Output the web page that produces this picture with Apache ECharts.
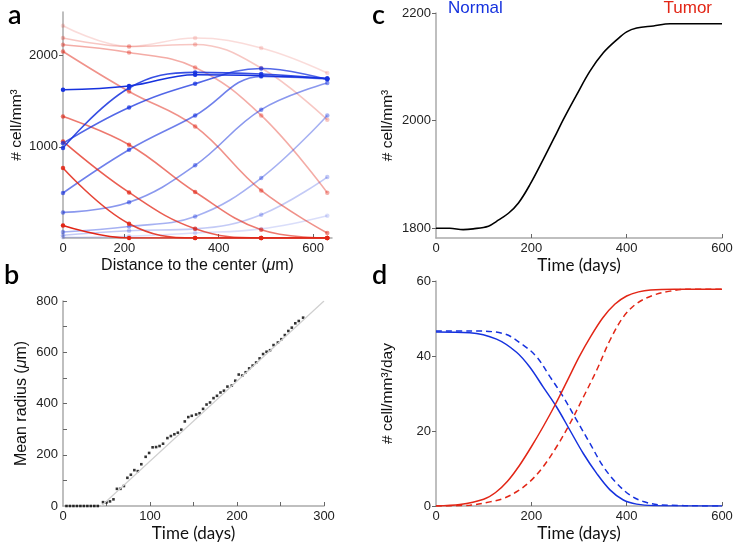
<!DOCTYPE html>
<html>
<head>
<meta charset="utf-8">
<script src="https://cdn.jsdelivr.net/npm/echarts@6/dist/echarts.min.js"></script>
<style>
html, body { margin: 0; padding: 0; background: #fff; }
#main { width: 733px; height: 546px; }
</style>
</head>
<body>
<div id="main"></div>
<script>
// panel a : density profiles vs distance, one line per snapshot (dark = early, light = late)
var DIST = [70, 210, 350, 490, 630];
var TUMOR_PROFILES = [
  [138, 0, 0, 0, 0],
  [768, 157, 0, 0, 0],
  [1060, 500, 102, 0, 0],
  [1334, 1024, 505, 91, 0],
  [2047, 1608, 1224, 522, 55],
  [2121, 2036, 1872, 1345, 497],
  [2194, 2102, 2124, 1865, 1298],
  [2329, 2102, 2194, 2084, 1810]
];
var NORMAL_PROFILES = [
  [1627, 1668, 1792, 1780, 1750],
  [987, 1646, 1817, 1799, 1751],
  [1040, 1433, 1693, 1860, 1740],
  [494, 969, 1345, 1773, 1745],
  [281, 391, 797, 1408, 1700],
  [66, 127, 237, 658, 1345],
  [30, 80, 100, 256, 669],
  [8, 20, 55, 100, 245]
];

// panel b : mean radius over time
var RADIUS_DAYS = [4, 8, 12, 16, 20, 24, 28, 32, 36, 40,
  46, 50, 54, 58, 62, 66, 70, 74, 78, 82, 86, 90, 95, 99, 103, 107, 111, 115,
  120, 124, 128, 132, 136, 140, 144, 148, 153, 157, 161, 165, 169, 173, 177,
  181, 185, 189, 194, 198, 202, 206, 210, 214, 218, 222, 226, 230, 234, 238,
  242, 247, 251, 255, 259, 263, 267, 271, 276];
var RADIUS_VALS = [0, 0, 0, 0, 0, 0, 0, 0, 0, 0,
  15, 14, 18, 26, 67, 67, 78, 110, 122, 140, 136, 163, 192, 207, 229, 230, 234, 243,
  265, 273, 280, 286, 298, 330, 347, 352, 357, 362, 379, 396, 404, 421, 430,
  443, 450, 466, 470, 489, 513, 509, 522, 537, 548, 560, 576, 593, 602, 608,
  628, 638, 651, 667, 683, 696, 713, 722, 735];
var FIT_DAYS = [44, 300];
var FIT_VALS = [0, 800];

// panel c : total density
var TOTAL_DAYS = [0, 29, 57, 78, 110, 127, 152, 173, 197, 225, 253, 267, 295, 323, 351, 379, 400, 421, 456, 491, 600];
var TOTAL_VALS = [1800, 1800, 1797.5, 1799, 1804, 1813, 1828, 1847, 1881, 1928, 1977, 2002, 2048, 2092, 2126, 2150, 2165, 2172, 2176, 2180, 2180];

// panel d : rates
var TUMOR_DAYS = [0, 50, 100, 125, 150, 175, 200, 225, 250, 275, 300, 325, 350, 375, 400, 425, 450, 500, 600];
var TUMOR_RATE = [0, 0.4, 1.8, 3.6, 6.6, 10.8, 15.8, 21.2, 27, 33.3, 39.7, 45.3, 50.2, 53.8, 56, 57.1, 57.6, 57.8, 57.8];
var TUMOR_DASH_DAYS = [0, 71, 113, 141, 169, 197, 225, 253, 281, 309, 337, 365, 393, 421, 456, 491, 526, 600];
var TUMOR_DASH_RATE = [0, 0.2, 1.1, 2, 3.8, 6.5, 10.5, 15.8, 22, 29, 36.2, 44.2, 50.4, 54, 56.2, 57.3, 57.8, 57.8];
var NORMAL_DAYS = [0, 71, 127, 169, 197, 225, 253, 281, 309, 337, 365, 393, 421, 456, 600];
var NORMAL_RATE = [46.4, 46.2, 44.5, 41, 37, 31.7, 26.4, 20.2, 14, 8.7, 4.3, 1.6, 0.5, 0.1, 0];
var NORMAL_DASH_DAYS = [0, 71, 141, 183, 211, 239, 267, 295, 323, 351, 379, 407, 435, 470, 600];
var NORMAL_DASH_RATE = [46.7, 46.7, 46, 42.9, 39.8, 34.5, 29.1, 22.9, 16.7, 10.5, 6.1, 2.9, 1.2, 0.3, 0];

function pairs(xs, ys) {
  return xs.map(function (x, i) { return [x, ys[i]]; });
}

var chart = echarts.init(document.getElementById('main'));

var AXIS_GREY = '#aaaaaa';
var LABEL_FONT = 'Liberation Sans';
var RED = '226,38,22';
var BLUE = '22,50,222';
var plain = function (v) { return String(v); };

function xAxisBase(gridIndex) {
  return {
    type: 'value', gridIndex: gridIndex,
    axisLine: { show: true, onZero: false, lineStyle: { color: AXIS_GREY, width: 1.5 } },
    axisTick: { show: true, inside: true, length: 4, lineStyle: { color: '#666' } },
    axisLabel: { color: '#222', fontSize: 13, fontFamily: LABEL_FONT, margin: 4, formatter: plain },
    splitLine: { show: false },
    nameLocation: 'middle',
    nameTextStyle: { color: '#111', fontSize: 16, fontFamily: LABEL_FONT }
  };
}
function yAxisBase(gridIndex) {
  return {
    type: 'value', gridIndex: gridIndex,
    axisLine: { show: true, onZero: false, lineStyle: { color: AXIS_GREY, width: 1.5 } },
    axisTick: { show: true, inside: false, length: 4, lineStyle: { color: '#666' } },
    axisLabel: { color: '#222', fontSize: 13, fontFamily: LABEL_FONT, margin: 5, formatter: plain },
    splitLine: { show: false },
    nameLocation: 'middle',
    nameTextStyle: { color: '#111', fontSize: 15.5, fontFamily: LABEL_FONT }
  };
}
function merge(a, b) {
  var o = {};
  for (var k in a) o[k] = a[k];
  for (var k2 in b) {
    if (o[k2] && typeof o[k2] === 'object' && !Array.isArray(o[k2]) && typeof b[k2] === 'object' && !Array.isArray(b[k2])) {
      o[k2] = merge(o[k2], b[k2]);
    } else {
      o[k2] = b[k2];
    }
  }
  return o;
}

var muRich = {
  n: { fontSize: 16, fontFamily: LABEL_FONT, color: '#111' },
  i: { fontSize: 16, fontFamily: LABEL_FONT, fontStyle: 'italic', color: '#111' }
};
var gillStyle = { color: '#111', fontSize: 17, fontFamily: 'Lato' };

var series = [];
var alphas = [1, 0.86, 0.74, 0.62, 0.5, 0.38, 0.26, 0.16];
for (var i = TUMOR_PROFILES.length - 1; i >= 0; i--) {
  [[TUMOR_PROFILES, RED], [NORMAL_PROFILES, BLUE]].forEach(function (set) {
    var c = 'rgba(' + set[1] + ',' + alphas[i] + ')';
    series.push({
      type: 'line', xAxisIndex: 0, yAxisIndex: 0,
      data: pairs(DIST, set[0][i]),
      smooth: 0.4, symbol: 'circle', symbolSize: 4.5, showSymbol: true,
      lineStyle: { color: c, width: 1.6 },
      itemStyle: { color: c }
    });
  });
}

series.push({
  type: 'line', xAxisIndex: 1, yAxisIndex: 1,
  data: pairs(FIT_DAYS, FIT_VALS), symbol: 'none',
  lineStyle: { color: '#cfcfcf', width: 1.2 }
});
series.push({
  type: 'scatter', xAxisIndex: 1, yAxisIndex: 1,
  data: pairs(RADIUS_DAYS, RADIUS_VALS), symbol: 'rect', symbolSize: 2.6,
  itemStyle: { color: '#000' }
});
series.push({
  type: 'line', xAxisIndex: 2, yAxisIndex: 2,
  data: pairs(TOTAL_DAYS, TOTAL_VALS), smooth: 0.35, symbol: 'none',
  lineStyle: { color: '#000', width: 1.6 }
});
series.push({
  type: 'line', xAxisIndex: 3, yAxisIndex: 3, name: 'Normal dashed',
  data: pairs(NORMAL_DASH_DAYS, NORMAL_DASH_RATE), smooth: 0.35, symbol: 'none',
  lineStyle: { color: 'rgb(' + BLUE + ')', width: 1.5, type: [6, 4] }
});
series.push({
  type: 'line', xAxisIndex: 3, yAxisIndex: 3, name: 'Tumor dashed',
  data: pairs(TUMOR_DASH_DAYS, TUMOR_DASH_RATE), smooth: 0.35, symbol: 'none',
  lineStyle: { color: 'rgb(' + RED + ')', width: 1.5, type: [6, 4] }
});
series.push({
  type: 'line', xAxisIndex: 3, yAxisIndex: 3, name: 'Normal',
  data: pairs(NORMAL_DAYS, NORMAL_RATE), smooth: 0.35, symbol: 'none',
  lineStyle: { color: 'rgb(' + BLUE + ')', width: 1.5 }
});
series.push({
  type: 'line', xAxisIndex: 3, yAxisIndex: 3, name: 'Tumor',
  data: pairs(TUMOR_DAYS, TUMOR_RATE), smooth: 0.3, symbol: 'none',
  lineStyle: { color: 'rgb(' + RED + ')', width: 1.5 }
});

var letterStyle = { fontSize: 27, fontWeight: 600, fontFamily: 'Lato', fill: '#000' };

var option = {
  animation: false,
  backgroundColor: '#fff',
  grid: [
    { left: 63, right: 401, top: 12, bottom: 308, outerBoundsMode: 'none' },
    { left: 63, right: 409, top: 301, bottom: 40, outerBoundsMode: 'none' },
    { left: 436, right: 11, top: 13, bottom: 308, outerBoundsMode: 'none' },
    { left: 436, right: 11, top: 281, bottom: 40, outerBoundsMode: 'none' }
  ],
  xAxis: [
    merge(xAxisBase(0), {
      min: 70, max: 640,
      axisTick: { customValues: [200, 400, 600] },
      axisLabel: { customValues: [70, 200, 400, 600], formatter: function (v) { return v === 70 ? '0' : String(v); } },
      name: '{n|Distance to the center (}{i|μ}{n|m)}', nameGap: 20,
      nameTextStyle: { rich: muRich }
    }),
    merge(xAxisBase(1), {
      min: 0, max: 300,
      axisTick: { customValues: [50, 100, 150, 200, 250, 300] },
      axisLabel: { customValues: [0, 100, 200, 300] },
      name: 'Time (days)', nameGap: 19, nameTextStyle: gillStyle
    }),
    merge(xAxisBase(2), {
      min: 0, max: 600,
      axisTick: { customValues: [200, 400, 600] },
      axisLabel: { customValues: [0, 200, 400, 600] },
      name: 'Time (days)', nameGap: 19, nameTextStyle: gillStyle
    }),
    merge(xAxisBase(3), {
      min: 0, max: 600,
      axisTick: { customValues: [200, 400, 600] },
      axisLabel: { customValues: [0, 200, 400, 600] },
      name: 'Time (days)', nameGap: 19, nameTextStyle: gillStyle
    })
  ],
  yAxis: [
    merge(yAxisBase(0), {
      min: 0, max: 2480,
      axisTick: { customValues: [1000, 2000] },
      axisLabel: { customValues: [1000, 2000] },
      name: '# cell/mm³', nameGap: 33
    }),
    merge(yAxisBase(1), {
      min: 0, max: 800,
      axisTick: { inside: true, customValues: [100, 200, 300, 400, 500, 600, 700, 800] },
      axisLabel: { customValues: [0, 200, 400, 600, 800] },
      name: '{n|Mean radius (}{i|μ}{n|m)}', nameGap: 33,
      nameTextStyle: { rich: muRich }
    }),
    merge(yAxisBase(2), {
      min: 1782, max: 2200,
      axisTick: { customValues: [1800, 2000, 2200] },
      axisLabel: { customValues: [1800, 2000, 2200] },
      name: '# cell/mm³', nameGap: 40
    }),
    merge(yAxisBase(3), {
      min: 0, max: 60,
      axisTick: { customValues: [0, 20, 40, 60] },
      axisLabel: { customValues: [0, 20, 40, 60] },
      name: '# cell/mm³/day', nameGap: 40
    })
  ],
  graphic: [
    { type: 'text', left: 8, top: 2, style: merge(letterStyle, { text: 'a' }) },
    { type: 'text', left: 4, top: 262, style: merge(letterStyle, { text: 'b' }) },
    { type: 'text', left: 372, top: 2, style: merge(letterStyle, { text: 'c' }) },
    { type: 'text', left: 372, top: 262, style: merge(letterStyle, { text: 'd' }) },
    { type: 'text', left: 448, top: 0, style: { text: 'Normal', fontSize: 17, fontFamily: LABEL_FONT, fill: 'rgb(' + BLUE + ')' } },
    { type: 'text', right: 21, top: 0, style: { text: 'Tumor', fontSize: 17, fontFamily: LABEL_FONT, fill: 'rgb(' + RED + ')' } }
  ],
  series: series
};
chart.setOption(option);
</script>
</body>
</html>
